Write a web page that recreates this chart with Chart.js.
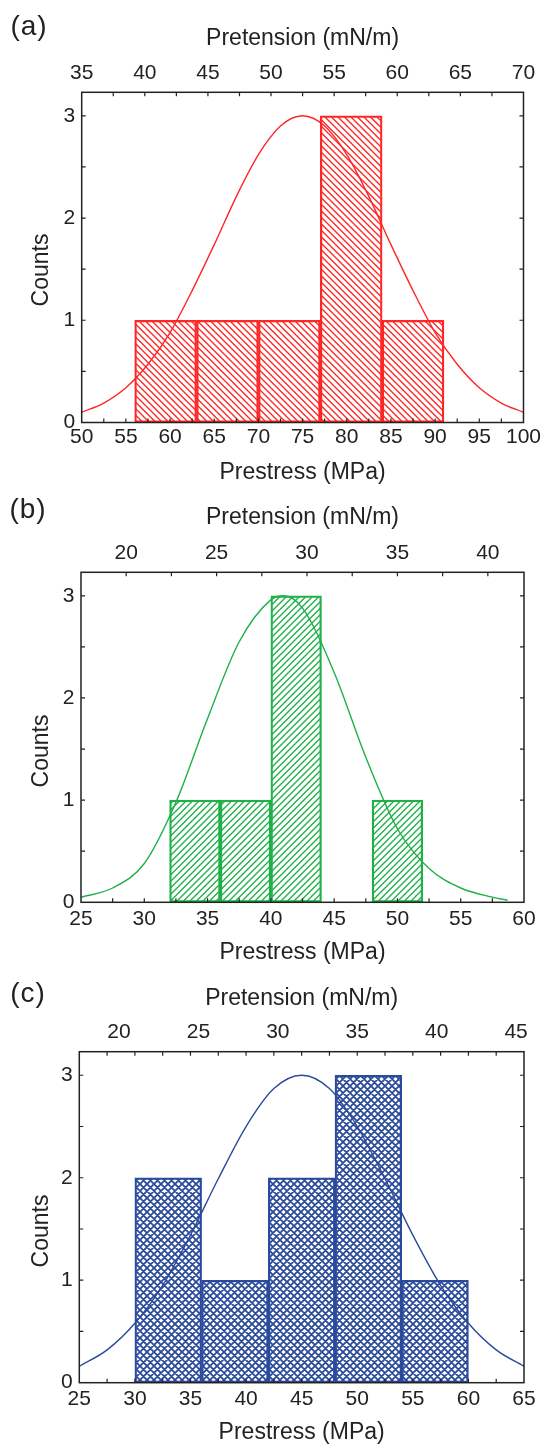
<!DOCTYPE html>
<html>
<head>
<meta charset="utf-8">
<script src="https://cdn.jsdelivr.net/npm/chart.js@4.4.1/dist/chart.umd.min.js"></script>
<style>
  body { margin: 0; background: #fff; }
  #page { position: relative; width: 543px; height: 1447px; overflow: hidden;
          font-family: 'Liberation Sans', Arial, sans-serif; color: #222; }
  canvas { position: absolute; left: 0; }
  .tag { position: absolute; font-size: 28px; line-height: 1; letter-spacing: 1px;
         transform: translate(-50%, -50%); }
  .ylab { position: absolute; font-size: 23px; line-height: 1; white-space: nowrap;
          transform: translate(-50%, -50%) rotate(-90deg); }
</style>
</head>
<body>
<div id="page">
  <canvas id="chartA" width="543" height="495" style="top:0"></canvas>
  <canvas id="chartB" width="543" height="495" style="top:480px"></canvas>
  <canvas id="chartC" width="543" height="487" style="top:960px"></canvas>
  <div class="tag" style="left:29px;top:26px">(a)</div>
  <div class="tag" style="left:28px;top:509px">(b)</div>
  <div class="tag" style="left:28px;top:993px">(c)</div>
  <div class="ylab" style="left:40px;top:270px">Counts</div>
  <div class="ylab" style="left:40px;top:751px">Counts</div>
  <div class="ylab" style="left:40px;top:1231px">Counts</div>
</div>
<script>
// histogram bins (left edge, MPa) and counts
const binStartA = [56, 63, 70, 77, 84];
const countsA = [1, 1, 1, 3, 1];
const binWidthA = 7;
const binStartB = [32, 36, 40, 48];
const countsB = [1, 1, 3, 1];
const binWidthB = 4;
const binStartC = [30, 36, 42, 48, 54];
const countsC = [2, 1, 2, 3, 1];
const binWidthC = 6;

// fitted distribution curves
const fitXA = [50, 52.5, 55, 57.5, 60, 62.5, 65, 67.5, 70, 72.5, 75, 77.5, 80, 82.5, 85, 87.5, 90, 92.5, 95, 97.5, 100];
const fitYA = [0.10, 0.19, 0.34, 0.57, 0.88, 1.29, 1.74, 2.21, 2.62, 2.90, 3.00, 2.90, 2.62, 2.21, 1.74, 1.29, 0.88, 0.57, 0.34, 0.19, 0.10];
const fitXB = [25, 27.5, 30, 32.5, 35, 37.5, 40, 41, 42.5, 45, 47.5, 50, 52.5, 55, 57.5, 58.7];
const fitYB = [0.05, 0.14, 0.38, 0.98, 1.80, 2.55, 2.96, 3.00, 2.88, 2.25, 1.42, 0.72, 0.33, 0.14, 0.05, 0.02];
const fitXC = [25, 27.5, 30, 32.5, 35, 37.5, 40, 42.5, 45, 47.5, 50, 52.5, 55, 57.5, 60, 62.5, 65];
const fitYC = [0.16, 0.32, 0.58, 0.95, 1.44, 1.99, 2.50, 2.87, 3.00, 2.87, 2.50, 1.99, 1.44, 0.95, 0.58, 0.32, 0.16];

// axis ranges: prestress (bottom), pretension (top), counts
const prestressA = [50, 100];
const pretensionA = [35, 70];
const prestressB = [25, 60];
const pretensionB = [17.5, 42];
const prestressC = [25, 65];
const pretensionC = [17.5, 45.5];
const countRange = [0, 3.23];

Chart.defaults.font.family = "'Liberation Sans', Arial, sans-serif";
Chart.defaults.color = '#222';

function hatch(color, dirs, gap, width) {
  const size = gap * 2;
  const c = document.createElement('canvas');
  c.width = size;
  c.height = size;
  const g = c.getContext('2d');
  g.strokeStyle = color;
  g.lineWidth = width;
  g.beginPath();
  for (let k = -2; k <= 2; k++) {
    if (dirs.includes('\\')) {
      g.moveTo(-size, -size + k * gap);
      g.lineTo(2 * size, 2 * size + k * gap);
    }
    if (dirs.includes('/')) {
      g.moveTo(-size, 2 * size + k * gap);
      g.lineTo(2 * size, -size + k * gap);
    }
  }
  g.stroke();
  return g.createPattern(c, 'repeat');
}

// box around the plot with inward tick marks on all four sides
const frameTicks = {
  id: 'frameTicks',
  afterDatasetsDraw(chart, args, opts) {
    const {ctx, chartArea: {left, right, top, bottom}, scales} = chart;
    const len = 4;
    const inside = (s, v) => v > s.min + 1e-6 && v < s.max - 1e-6;
    ctx.save();
    ctx.strokeStyle = '#222';
    ctx.lineWidth = 1.2;
    ctx.beginPath();
    scales.x.ticks.forEach(t => {
      if (!inside(scales.x, t.value)) return;
      const px = scales.x.getPixelForValue(t.value);
      ctx.moveTo(px, bottom);
      ctx.lineTo(px, bottom - len);
    });
    const ts = scales[opts.topScale];
    ts.ticks.forEach(t => {
      if (!inside(ts, t.value)) return;
      const px = ts.getPixelForValue(t.value);
      ctx.moveTo(px, top);
      ctx.lineTo(px, top + len);
    });
    scales.y.ticks.forEach(t => {
      if (!inside(scales.y, t.value)) return;
      const py = scales.y.getPixelForValue(t.value);
      ctx.moveTo(left, py);
      ctx.lineTo(left + len, py);
      ctx.moveTo(right, py);
      ctx.lineTo(right - len, py);
    });
    ctx.stroke();
    ctx.lineWidth = 1.5;
    ctx.strokeRect(left, top, right - left, bottom - top);
    ctx.restore();
  }
};

const noGrid = {display: false, drawTicks: false, tickLength: 0, offset: false};

function makePanel(canvasId, p) {
  const canvas = document.getElementById(canvasId);
  const H = canvas.height;
  const bars = p.binStart.map((s, i) => ({x: s + p.binWidth / 2, y: p.counts[i]}));
  const fit = p.fitX.map((x, i) => ({x: x, y: p.fitY[i]}));
  const span = p.prestress[1] - p.prestress[0];
  const labelEvery5 = v => (Math.abs(v % 5) < 1e-6 ? String(v) : '');
  return new Chart(canvas, {
    type: 'bar',
    data: {
      datasets: [
        {
          type: 'line',
          data: fit,
          xAxisID: 'x',
          yAxisID: 'y',
          borderColor: p.color,
          borderWidth: 1.4,
          pointRadius: 0,
          cubicInterpolationMode: 'monotone',
          order: 0
        },
        {
          type: 'bar',
          data: bars,
          xAxisID: 'xb',
          yAxisID: 'y',
          grouped: false,
          backgroundColor: p.pattern,
          borderColor: p.color,
          borderWidth: 1.6,
          borderSkipped: false,
          barPercentage: 1,
          categoryPercentage: 1,
          order: 1
        }
      ]
    },
    options: {
      responsive: false,
      animation: false,
      devicePixelRatio: 1,
      layout: {autoPadding: false, padding: {left: 0, top: 0, bottom: 0, right: canvas.width - p.right}},
      plugins: {
        legend: {display: false},
        tooltip: {enabled: false},
        frameTicks: {topScale: p.topTicks}
      },
      scales: {
        x: {
          type: 'linear', axis: 'x', position: 'bottom',
          min: p.prestress[0], max: p.prestress[1],
          offset: false, bounds: 'data',
          grid: noGrid, border: {display: false},
          ticks: {stepSize: 2.5, autoSkip: false, maxRotation: 0, minRotation: 0, includeBounds: false,
                  padding: p.bottomPad, font: {size: 21}, callback: labelEvery5},
          title: {display: true, text: 'Prestress (MPa)', font: {size: 23},
                  padding: {top: 0, bottom: H - p.bottom - 50 - 13.8}},
          afterFit: s => { s.height = H - p.bottom; }
        },
        x2: {
          type: 'linear', axis: 'x', position: 'top',
          min: p.pretension[0], max: p.pretension[1],
          offset: false, bounds: 'data',
          grid: noGrid, border: {display: false},
          ticks: {stepSize: 2.5, autoSkip: false, maxRotation: 0, minRotation: 0, includeBounds: false,
                  padding: 6.5, font: {size: 21}, callback: labelEvery5},
          title: {display: true, text: 'Pretension (mN/m)', font: {size: 23},
                  padding: {top: p.topTitleY - 13.8, bottom: 0}},
          afterFit: s => { s.height = p.top; }
        },
        xb: {
          type: 'linear', axis: 'x', position: 'bottom', display: false,
          min: p.prestress[0], max: p.prestress[1],
          offset: false, bounds: 'data',
          grid: {offset: false},
          ticks: {stepSize: span}
        },
        y: {
          type: 'linear', position: 'left',
          min: countRange[0], max: countRange[1], bounds: 'data',
          grid: noGrid, border: {display: false},
          ticks: {stepSize: 0.5, includeBounds: false, padding: 6.5, font: {size: 21},
                  callback: v => (Number.isInteger(v) ? String(v) : '')},
          afterFit: s => { s.width = p.left; }
        }
      }
    },
    plugins: [frameTicks]
  });
}

const red = '#ff2626';
const green = '#1fb04a';
const blue = '#2a4a9c';

makePanel('chartA', {
  binStart: binStartA, counts: countsA, binWidth: binWidthA,
  fitX: fitXA, fitY: fitYA, prestress: prestressA, pretension: pretensionA,
  color: red, pattern: hatch(red, '\\', 6.5, 1.35), topTicks: 'x2',
  left: 81.7, right: 524, top: 92.3, bottom: 422.5, bottomPad: 2, topTitleY: 38.5
});

makePanel('chartB', {
  binStart: binStartB, counts: countsB, binWidth: binWidthB,
  fitX: fitXB, fitY: fitYB, prestress: prestressB, pretension: pretensionB,
  color: green, pattern: hatch(green, '/', 6.5, 1.35), topTicks: 'x2',
  left: 81, right: 524, top: 92.3, bottom: 422.3, bottomPad: 4.4, topTitleY: 37.5
});

makePanel('chartC', {
  binStart: binStartC, counts: countsC, binWidth: binWidthC,
  fitX: fitXC, fitY: fitYC, prestress: prestressC, pretension: pretensionC,
  color: blue, pattern: hatch(blue, '\\/', 7, 1.8), topTicks: 'x',
  left: 79.3, right: 524, top: 91.7, bottom: 422.7, bottomPad: 4.4, topTitleY: 39
});
</script>
</body>
</html>
